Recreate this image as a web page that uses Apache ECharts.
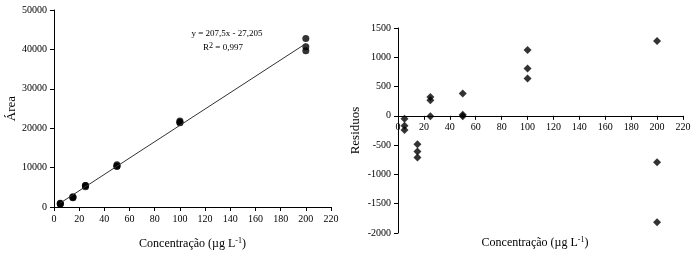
<!DOCTYPE html>
<html><head><meta charset="utf-8">
<script src="https://cdn.jsdelivr.net/npm/echarts@6/dist/echarts.min.js"></script>
<style>html,body{margin:0;padding:0;background:#fff}#c{width:697px;height:255px}</style>
</head><body><div id="c"></div>
<script>
// Calibration data (left chart)
const calX = [5,5,5,15,15,15,25,25,25,50,50,50,100,100,100,200,200,200];
const calY = [960,840,770,2600,2475,2375,5480,5430,5160,10730,10360,10340,21850,21530,21360,42750,40700,39680];
// Fitted line
const fitX = [5,200];
const fitY = [1010,41473];
// Residuals (right chart)
const resX = [5,5,5,15,15,15,25,25,25,50,50,50,100,100,100,200,200,200];
const resY = [-50,-170,-240,-483,-608,-710,324,267,-5,380,20,-8,1125,807,636,1278,-790,-1815];
// Ticks
const xTicks = {min:0,max:220,interval:20};
const calTicks = {min:0,max:50000,interval:10000};
const resTicks = {min:-2000,max:1500,interval:500};

const F = 'Liberation Serif';
const fmt = v => String(v);
const tick = {show:true,length:4,lineStyle:{color:'#000'}};
const line = {show:true,onZero:false,lineStyle:{color:'#000',width:1}};
const lab = {fontFamily:F,fontSize:10,color:'#000',margin:7,formatter:fmt};
const G1H = 205;
const zeroFromBottom = G1H * (0 - resTicks.min) / (resTicks.max - resTicks.min);

const chart = echarts.init(document.getElementById('c'));
chart.setOption({
  backgroundColor:'#fff',
  animation:false,
  grid:[
    {left:54,top:10,width:277,height:200},
    {left:398,top:28,width:285,height:G1H}
  ],
  xAxis:[
    {type:'value',gridIndex:0,min:xTicks.min,max:xTicks.max,interval:xTicks.interval,
      axisLine:line,axisTick:tick,splitLine:{show:false},axisLabel:lab,
      name:'{a|Concentração (µg L}{s|-1}{a|)}',nameLocation:'middle',nameGap:30,
      nameTextStyle:{rich:{a:{fontFamily:F,fontSize:12,color:'#000'},s:{fontFamily:F,fontSize:8,color:'#000',verticalAlign:'top',padding:[0,0,6,0]}}}
    },
    {type:'value',gridIndex:1,min:xTicks.min,max:xTicks.max,interval:xTicks.interval,position:'bottom',
      offset:-zeroFromBottom,
      axisLine:line,axisTick:tick,splitLine:{show:false},axisLabel:lab}
  ],
  yAxis:[
    {type:'value',gridIndex:0,min:calTicks.min,max:calTicks.max,interval:calTicks.interval,
      axisLine:line,axisTick:tick,splitLine:{show:false},axisLabel:lab,
      name:'Área',nameLocation:'middle',nameGap:35,
      nameTextStyle:{fontFamily:F,fontSize:13,color:'#000'}
    },
    {type:'value',gridIndex:1,min:resTicks.min,max:resTicks.max,interval:resTicks.interval,
      axisLine:line,axisTick:tick,splitLine:{show:false},axisLabel:lab,
      name:'Residuos',nameLocation:'middle',nameGap:36,
      nameTextStyle:{fontFamily:F,fontSize:13,color:'#000'}
    }
  ],
  graphic:[
    {type:'text',x:535,y:243,style:{text:'{a|Concentração (µg L}{s|-1}{a|)}',align:'center',verticalAlign:'middle',
      rich:{a:{fontFamily:F,fontSize:12,fill:'#000'},s:{fontFamily:F,fontSize:8,fill:'#000',verticalAlign:'top',padding:[0,0,6,0]}}}},
    {type:'text',x:227,y:34,style:{text:'y = 207,5x - 27,205',align:'center',verticalAlign:'middle',fontFamily:F,fontSize:9,fill:'#000'}},
    {type:'text',x:223,y:48,style:{text:'{a|R}{s|2}{a| = 0,997}',align:'center',verticalAlign:'middle',
      rich:{a:{fontFamily:F,fontSize:9,fill:'#000'},s:{fontFamily:F,fontSize:8,fill:'#000',verticalAlign:'top',padding:[0,0,5,0]}}}}
  ],
  series:[
    {type:'line',xAxisIndex:0,yAxisIndex:0,data:fitX.map((x,i)=>[x,fitY[i]]),symbol:'none',
      lineStyle:{color:'#333',width:1}},
    {type:'scatter',xAxisIndex:0,yAxisIndex:0,data:calX.map((x,i)=>[x,calY[i]]),symbol:'circle',symbolSize:7,
      itemStyle:{color:'#000'}},
    {type:'scatter',xAxisIndex:1,yAxisIndex:1,data:resX.map((x,i)=>[x,resY[i]]),symbol:'diamond',symbolSize:[8,8],
      itemStyle:{color:'#000'}}
  ]
});
</script></body></html>
